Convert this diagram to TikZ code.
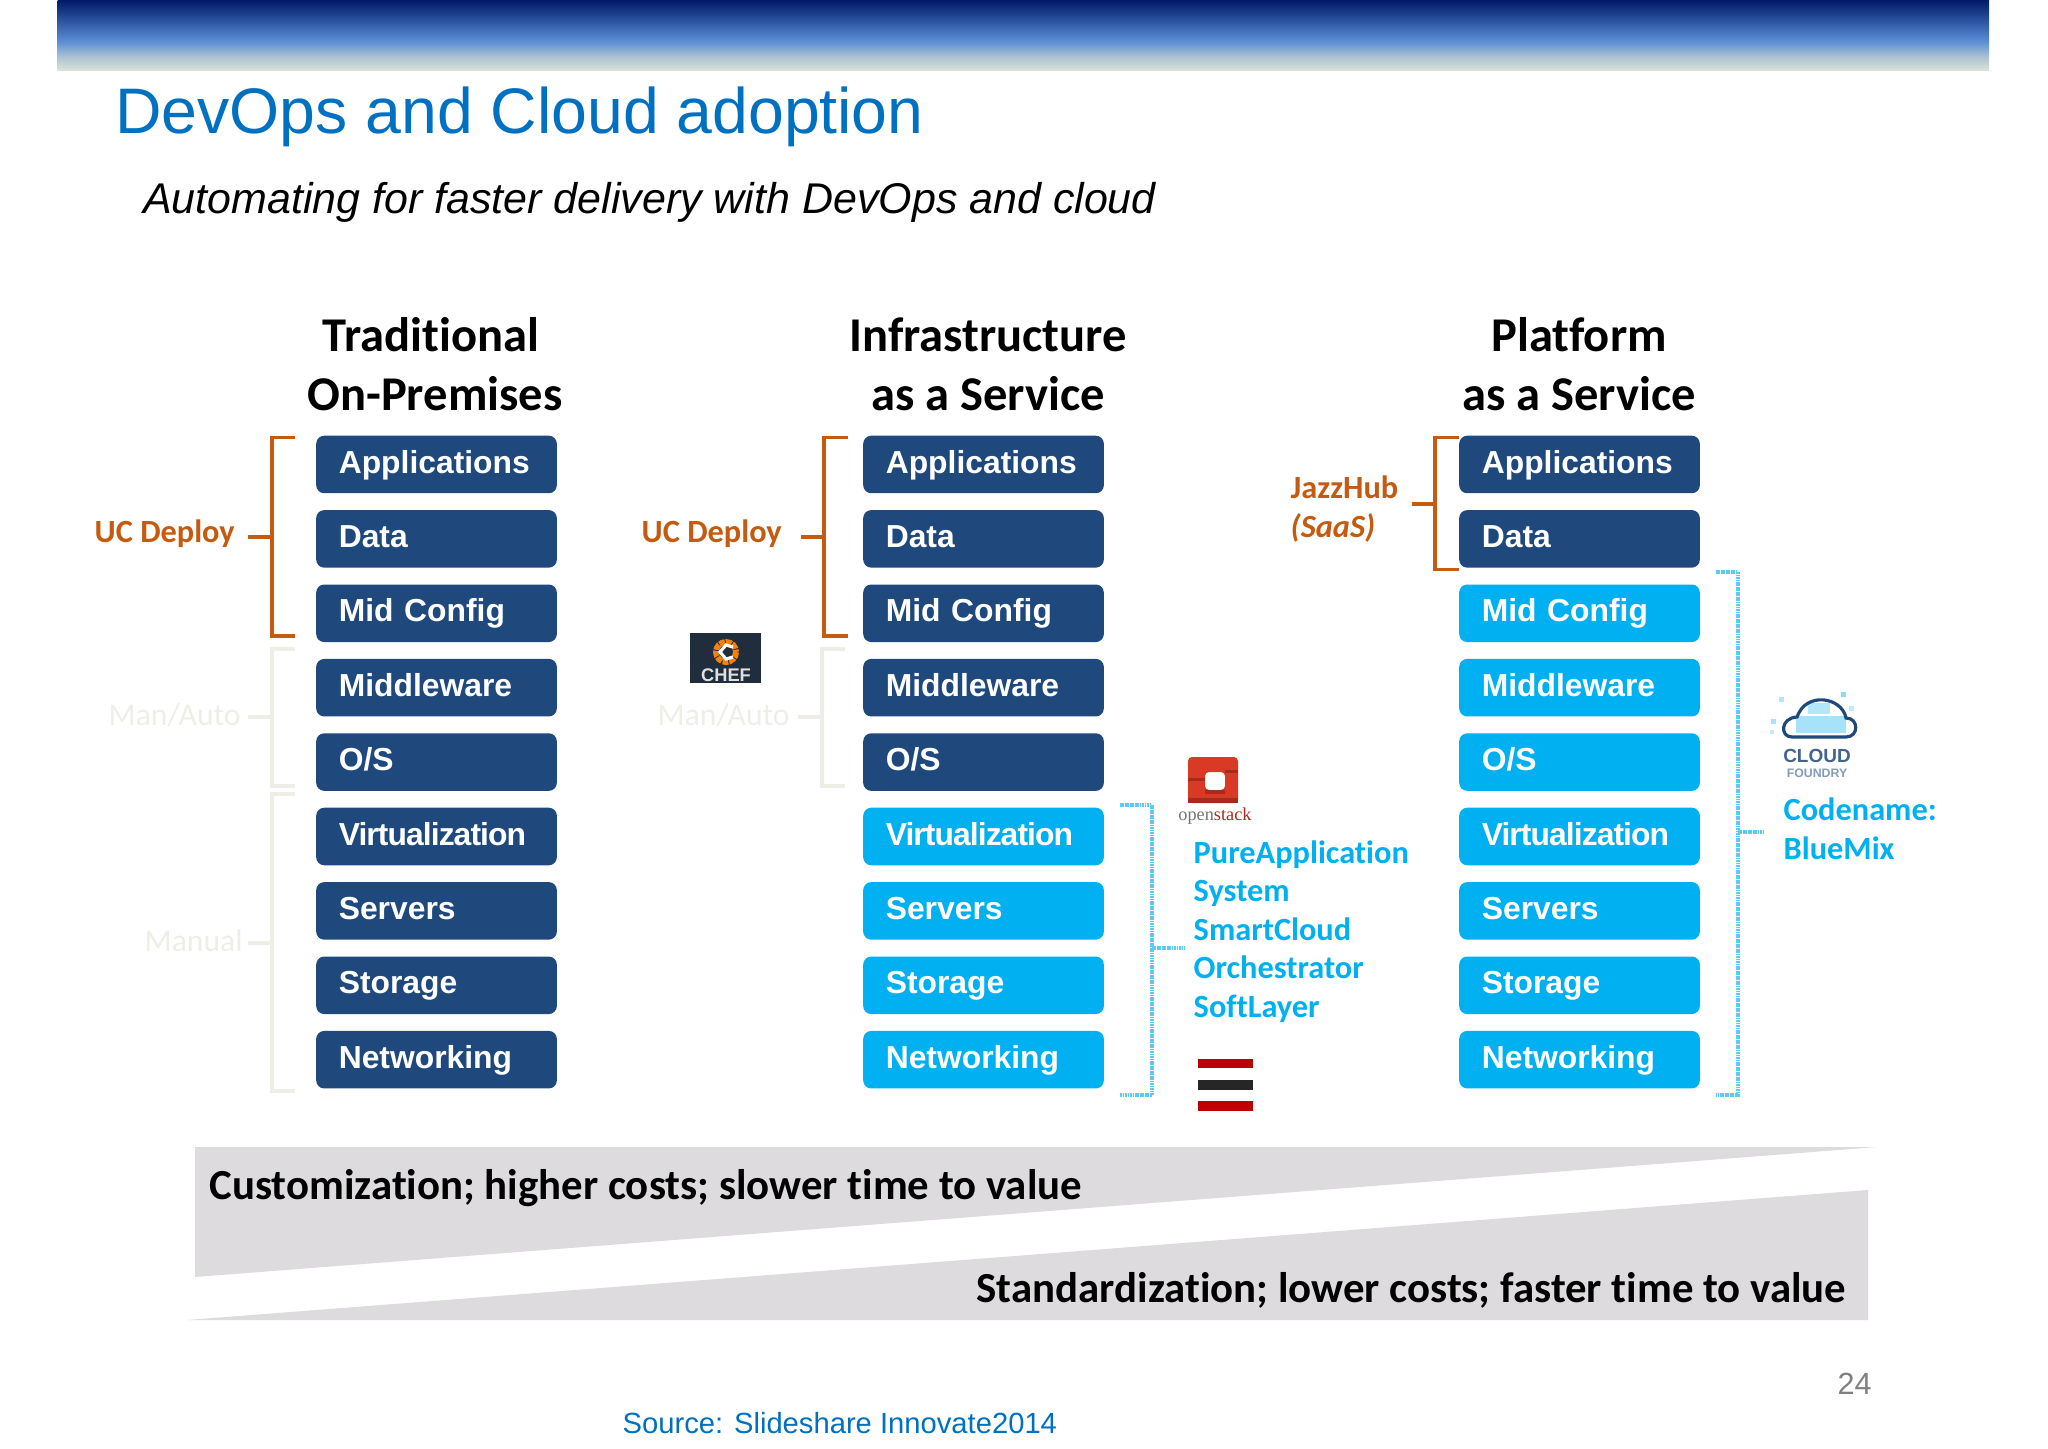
\documentclass[tikz,border=0pt]{standalone}
\usepackage{fontspec}
\setmainfont{Liberation Sans}
\newfontfamily\calibri[Ligatures=NoCommon]{Carlito}
\newfontfamily\serifsmall{Liberation Serif}
\newcommand{\tightword}[1]{{\addfontfeature{LetterSpace=-2.9}#1}}
\definecolor{navybox}{HTML}{1F497D}
\definecolor{skybox}{HTML}{00B0F0}
\definecolor{brorange}{HTML}{C55A11}
\definecolor{brlight}{HTML}{EFEEE6}
\definecolor{titleblue}{HTML}{0070C0}
\definecolor{wedgegray}{HTML}{DDDBDD}
\definecolor{chefdark}{HTML}{1F2D3D}
\definecolor{stackred}{HTML}{D93A25}
\definecolor{stackdark}{HTML}{A82A1C}
\definecolor{bandbottom}{HTML}{D6E3D6}
\definecolor{bandlow}{HTML}{AFC4D4}
\definecolor{bandmid}{HTML}{5F90D4}
\definecolor{bandhigh}{HTML}{4C7CC6}
\definecolor{bandtop}{HTML}{001A68}
\pgfdeclareverticalshading{bandshade}{100bp}{color(0bp)=(bandbottom); color(25bp)=(bandbottom); color(34bp)=(bandlow); color(45bp)=(bandmid); color(50bp)=(bandhigh); color(75bp)=(bandtop); color(100bp)=(bandtop)}
\tikzset{
  navystack/.style={fill=navybox, rounded corners=0.8mm, anchor=north west, inner ysep=0pt, inner xsep=0pt,
    text width=2.405cm, align=left, text height=3.74mm, text depth=2.01mm,
    execute at begin node=\hspace*{2.26mm},
    text=white, font=\fontsize{9.05}{11}\selectfont\bfseries},
  skystack/.style={navystack, fill=skybox},
  textline/.style={inner sep=0pt, anchor=base west},
  headline/.style={inner sep=0pt, anchor=south, align=center, font=\calibri\bfseries\fontsize{13.8}{16.8}\selectfont},
  orangetag/.style={textline, text=brorange, font=\calibri\bfseries\fontsize{9.2}{11}\selectfont},
  lighttag/.style={textline, text=brlight, font=\calibri\fontsize{9}{11}\selectfont},
  skytag/.style={textline, text=skybox, font=\calibri\bfseries\fontsize{9.2}{11}\selectfont},
  darktag/.style={textline, font=\calibri\bfseries\fontsize{12.18}{14}\selectfont},
  orangebr/.style={draw=brorange, line width=1.1pt},
  lightbr/.style={draw=brlight, line width=1.1pt},
  skybr/.style={draw=skybox!65, line width=1.2pt, dash pattern=on 0.5pt off 0.2pt},
}
\begin{document}
\begin{tikzpicture}[x=0.01cm,y=-0.01cm]
  \useasboundingbox (0,0) rectangle (2048,1448);
  % band and titles
  \path[shading=bandshade] (57.5,0) rectangle (1989,70);
  \node[textline, text=titleblue, font=\fontsize{18.3}{22}\selectfont] (title) at (114.5,133.5) {DevOps and Cloud adoption};
  \node[textline, font=\fontsize{12.22}{14}\selectfont\itshape] (subtitle) at (142.5,213) {Automating for faster delivery with DevOps and cloud};
  % column heads
  \node[headline] (headtrad) at (435,411.5) {Traditional\hspace*{0.8mm}\\On-Premises};
  \node[headline] (headinfra) at (988,411.5) {Infrastructure\\as a Service};
  \node[headline] (headplat) at (1579,411.5) {Platform\\as a Service};
  % traditional stack
  \node[navystack] (tapp) at (315.5,435) {Applications};
  \node[navystack] (tdata) at (315.5,509.4) {Data};
  \node[navystack] (tmid) at (315.5,583.8) {Mid Config};
  \node[navystack] (tware) at (315.5,658.2) {Middleware};
  \node[navystack] (tos) at (315.5,732.6) {O/S};
  \node[navystack] (tvirt) at (315.5,807) {\tightword{Virtualization}};
  \node[navystack] (tserv) at (315.5,881.4) {Servers};
  \node[navystack] (tstor) at (315.5,955.8) {Storage};
  \node[navystack] (tnet) at (315.5,1030.2) {Networking};
  % infrastructure stack
  \node[navystack] (iapp) at (862.5,435) {Applications};
  \node[navystack] (idata) at (862.5,509.4) {Data};
  \node[navystack] (imid) at (862.5,583.8) {Mid Config};
  \node[navystack] (iware) at (862.5,658.2) {Middleware};
  \node[navystack] (ios) at (862.5,732.6) {O/S};
  \node[skystack] (ivirt) at (862.5,807) {\tightword{Virtualization}};
  \node[skystack] (iserv) at (862.5,881.4) {Servers};
  \node[skystack] (istor) at (862.5,955.8) {Storage};
  \node[skystack] (inet) at (862.5,1030.2) {Networking};
  % platform stack
  \node[navystack] (papp) at (1458.5,435) {Applications};
  \node[navystack] (pdata) at (1458.5,509.4) {Data};
  \node[skystack] (pmid) at (1458.5,583.8) {Mid Config};
  \node[skystack] (pware) at (1458.5,658.2) {Middleware};
  \node[skystack] (pos) at (1458.5,732.6) {O/S};
  \node[skystack] (pvirt) at (1458.5,807) {\tightword{Virtualization}};
  \node[skystack] (pserv) at (1458.5,881.4) {Servers};
  \node[skystack] (pstor) at (1458.5,955.8) {Storage};
  \node[skystack] (pnet) at (1458.5,1030.2) {Networking};
  % brackets, traditional
  \node[orangetag] (ucone) at (94,542.3) {UC Deploy};
  \node[lighttag] (manone) at (108,725.3) {Man/Auto};
  \node[lighttag] (manual) at (144,951) {Manual};
  \draw[orangebr] (295,437.5) -- (272,437.5) -- (272,636) -- (295,636);
  \draw[orangebr] (248,537) -- (272,537);
  \draw[lightbr] (295,649) -- (272,649) -- (272,786) -- (295,786);
  \draw[lightbr] (248,717) -- (272,717);
  \draw[lightbr] (295,794) -- (272,794) -- (272,1091) -- (295,1091);
  \draw[lightbr] (248,943) -- (272,943);
  % brackets, infrastructure
  \node[orangetag] (uctwo) at (641,542.3) {UC Deploy};
  \node[lighttag] (mantwo) at (657,725.3) {Man/Auto};
  \draw[orangebr] (848,437.5) -- (824,437.5) -- (824,636) -- (848,636);
  \draw[orangebr] (801,537) -- (824,537);
  \draw[lightbr] (845,649) -- (822,649) -- (822,786) -- (845,786);
  \draw[lightbr] (798,717) -- (822,717);
  \draw[skybr] (1120,805) -- (1152,805) -- (1152,1095) -- (1120,1095);
  \draw[skybr] (1152,948) -- (1185,948);
  \node[skytag] (pure) at (1193,863.3) {PureApplication};
  \node[skytag] (system) at (1193,901.8) {System};
  \node[skytag] (smart) at (1193,940.3) {SmartCloud};
  \node[skytag] (orch) at (1193,978.8) {Orchestrator};
  \node[skytag] (soft) at (1193,1017.3) {SoftLayer};
  % brackets, platform
  \node[orangetag] (jazz) at (1290,498.8) {JazzHub};
  \node[orangetag] (saas) at (1290,537.3) {\itshape (SaaS)};
  \draw[orangebr] (1459,437.5) -- (1435,437.5) -- (1435,569.5) -- (1459,569.5);
  \draw[orangebr] (1412,504) -- (1435,504);
  \draw[skybr] (1716,572) -- (1738,572) -- (1738,1095) -- (1716,1095);
  \draw[skybr] (1738,832) -- (1763,832);
  \node[skytag] (codename) at (1783,820.3) {Codename:};
  \node[skytag] (bluemix) at (1783,859.3) {BlueMix};
  % chef logo
  \fill[chefdark] (690,633) rectangle (761,683);
  \draw[orange!85!brown, line width=1.7pt, dash pattern=on 1.6pt off 0.3pt] (726,652) circle[radius=10];
  \draw[white, line width=0.9pt] (733,647) -- (726,645) -- (720,652) -- (726,659) -- (733,657);
  \node[inner sep=0pt, anchor=base, text=black!12, font=\fontsize{5.2}{6}\selectfont\bfseries] (chef) at (726,681) {CHEF};
  % openstack logo
  \fill[stackred, rounded corners=0.4mm, even odd rule] (1188,757) rectangle (1238,803) (1205,772) rectangle (1225,790);
  \fill[stackdark] (1188,778) rectangle (1205,781);
  \fill[stackdark] (1225,770) rectangle (1238,773);
  \fill[stackdark] (1205,790) rectangle (1225,794);
  \fill[stackdark] (1188,798) rectangle (1238,803);
  \node[inner sep=0pt, anchor=base, text=black!55, font=\serifsmall\fontsize{5.2}{6}\selectfont] (stackname) at (1215,820) {open\textcolor{stackdark}{stack}};
  % softlayer bars
  \fill[red!75!black] (1198,1059) rectangle (1253,1068);
  \fill[black!85] (1198,1080) rectangle (1253,1090);
  \fill[red!75!black] (1198,1101) rectangle (1253,1111);
  % cloud foundry logo
  \fill[skybox!35] (1796,716) rectangle (1846,733);
  \fill[skybox!30] (1808,703) rectangle (1830,714);
  \fill[skybox!35] (1771,719) rectangle (1776,724);
  \fill[skybox!45] (1841,692) rectangle (1846,697);
  \fill[skybox!30] (1779,697) rectangle (1784,702);
  \fill[skybox!25] (1849,706) rectangle (1854,711);
  \fill[skybox!25] (1770,730) rectangle (1774,734);
  \draw[navybox, line width=0.9pt] (1792,737) -- (1846,737) .. controls (1859,737) and (1859,718) .. (1846,718) .. controls (1842,697) and (1806,691) .. (1797,717) .. controls (1780,718) and (1780,737) .. (1792,737);
  \node[inner sep=0pt, anchor=base, text=navybox!85, font=\fontsize{5.4}{6}\selectfont\bfseries] (cloudword) at (1817,762) {CLOUD};
  \node[inner sep=0pt, anchor=base, text=navybox!55, font=\fontsize{3.5}{4}\selectfont\bfseries] (foundword) at (1817,777) {FOUNDRY};
  % wedges
  \fill[wedgegray] (195,1147) -- (1877,1147) -- (195,1277) -- cycle;
  \fill[wedgegray] (187,1320) -- (1868,1190) -- (1868,1320) -- cycle;
  \node[darktag] (custom) at (209,1199) {Customization; higher costs; slower time to value};
  \node[darktag] (standard) at (976,1302) {Standardization; lower costs; faster time to value};
  % footer
  \node[textline, text=titleblue, font=\fontsize{8.3}{10}\selectfont] (source) at (622,1433) {Source: Slideshare Innovate2014};
  \node[textline, text=black!50, font=\fontsize{8.7}{10}\selectfont] (pagenum) at (1837,1394.5) {24};
\end{tikzpicture}
\end{document}
